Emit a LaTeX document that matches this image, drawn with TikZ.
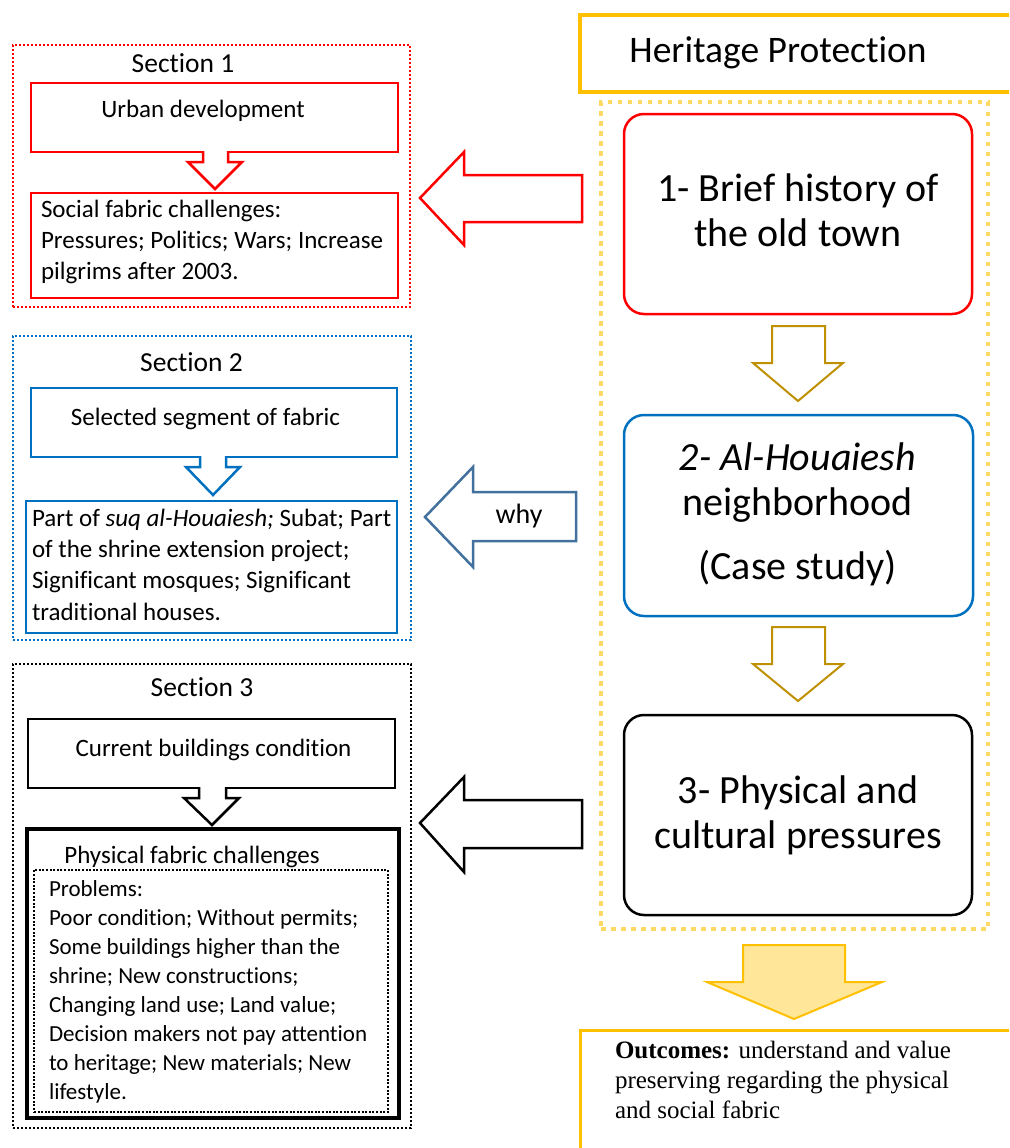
\documentclass[tikz,border=0pt]{standalone}
\usepackage{fontspec}
\setmainfont{Carlito}[Ligatures=NoCommon]
\newfontfamily\timesf{Liberation Serif}
\usetikzlibrary{fit}
\definecolor{cred}{HTML}{FF0000}
\definecolor{cblue}{HTML}{0070C0}
\definecolor{cwhy}{HTML}{41719C}
\definecolor{cgold}{HTML}{BF9000}
\definecolor{corange}{HTML}{FFC000}
\definecolor{clight}{HTML}{FFE699}
\definecolor{cdot}{HTML}{FFD966}
\begin{document}
\begin{tikzpicture}[x=1pt,y=-1pt,
  every node/.style={inner sep=0pt, outer sep=0pt},
  secdot/.style={draw, line width=2.6pt, dash pattern=on 2.4pt off 1.6pt},
  sqbox/.style={draw, line width=2.5pt, fit={#1}, inner sep=0pt},
  rbox/.style={draw, line width=2.5pt, rounded corners=20pt, fit={#1}, inner sep=0pt},
  body/.style={font=\fontsize{25}{31.3}\selectfont},
  small/.style={font=\fontsize{23}{29}\selectfont},
  sectitle/.style={font=\fontsize{27.5}{33}\selectfont, anchor=base},
  big/.style={font=\fontsize{40}{45}\selectfont, align=center, anchor=north},
]
\path[use as bounding box] (0,0) rectangle (1009,1148);
\clip (0,0) rectangle (1009,1148);
\fill[white] (0,0) rectangle (1009,1148);

% ---------- Section 1 ----------
\node[secdot, draw=cred, fit={(13,45) (410,307)}] (sec1) {};
\node[sectitle] (sec1t) at (183,73) {Section 1};
\node[sqbox={(31,83) (398,152)}, draw=cred] (urb) {};
\node[body, anchor=base] (urbt) at (203,117.3) {Urban development};
\node[sqbox={(31,193) (398,298)}, draw=cred] (soc) {};
\node[body, anchor=north west, align=left] (soct) at (41,200) {Social fabric challenges:\\Pressures; Politics; Wars; Increase\\pilgrims after 2003.};
\fill[white] (203,151) -- (203,162) -- (188,162) -- (215,189) -- (242,162) -- (228,162) -- (228,151) -- cycle;
\draw[cred, line width=2.5pt, line join=miter] (203,151) -- (203,162) -- (188,162) -- (215,189) -- (242,162) -- (228,162) -- (228,151);

% ---------- Section 2 ----------
\node[secdot, draw=cblue, fit={(13,336) (411,640)}] (sec2) {};
\node[sectitle] (sec2t) at (191.5,371.7) {Section 2};
\node[sqbox={(31,388) (397,457)}, draw=cblue] (sel) {};
\node[body, anchor=base] (selt) at (205.5,425) {Selected segment of fabric};
\node[sqbox={(26,501) (397,633)}, draw=cblue] (part) {};
\node[body, anchor=north west, align=left] (partt) at (32,509) {Part of \textit{suq al-Houaiesh;} Subat; Part\\of the shrine extension project;\\Significant mosques; Significant\\traditional houses.};
\fill[white] (200,456) -- (200,467) -- (186,467) -- (213,495) -- (240,467) -- (226,467) -- (226,456) -- cycle;
\draw[cblue, line width=2.5pt, line join=miter] (200,456) -- (200,467) -- (186,467) -- (213,495) -- (240,467) -- (226,467) -- (226,456);

% ---------- Section 3 ----------
\node[secdot, draw=black, fit={(13,664) (411,1128)}] (sec3) {};
\node[sectitle] (sec3t) at (202,696.7) {Section 3};
\node[sqbox={(28,719) (395,788)}, draw=black] (cur) {};
\node[body, anchor=base] (curt) at (213.5,756.7) {Current buildings condition};
\node[draw, line width=3.5pt, fit={(27,829) (399,1118)}, inner sep=0pt] (phys) {};
\node[body, anchor=base] (physt) at (192,863.3) {Physical fabric challenges};
\node[draw, line width=2.2pt, dash pattern=on 2pt off 1.6pt, fit={(34,870) (388,1112)}, inner sep=0pt] (prob) {};
\node[small, anchor=north west, align=left] (probt) at (49,881) {Problems:\\Poor condition; Without permits;\\Some buildings higher than the\\shrine; New constructions;\\Changing land use; Land value;\\Decision makers not pay attention\\to heritage; New materials; New\\lifestyle.};
\fill[white] (199,787) -- (199,798) -- (184,798) -- (212,825) -- (239,798) -- (226,798) -- (226,787) -- cycle;
\draw[black, line width=2.5pt, line join=miter] (199,787) -- (199,798) -- (184,798) -- (212,825) -- (239,798) -- (226,798) -- (226,787);

% ---------- left block arrows ----------
\draw[cred, line width=2.5pt, line join=miter] (420,198) -- (464,152) -- (464,175) -- (582,175) -- (582,222) -- (464,222) -- (464,245) -- cycle;
\draw[cwhy, line width=2.5pt, line join=miter] (425,517) -- (473,467) -- (473,492) -- (576,492) -- (576,541) -- (473,541) -- (473,567) -- cycle;
\node[font=\fontsize{28}{33}\selectfont, anchor=base] (why) at (519,523) {why};
\draw[black, line width=2.5pt, line join=miter] (420,823) -- (464,777) -- (464,800) -- (582,800) -- (582,848) -- (464,848) -- (464,872) -- cycle;

% ---------- right column ----------
\node[draw=corange, line width=4pt, fit={(580,15) (1030,92)}, inner sep=0pt] (her) {};
\node[font=\fontsize{37.5}{42}\selectfont, anchor=base] (hert) at (778,62.7) {Heritage Protection};
\node[draw=cdot, line width=3.5pt, dash pattern=on 4.5pt off 5.5pt, fit={(601,102) (988,929)}, inner sep=0pt] (col) {};
\node[rbox={(624,114) (972,314)}, draw=cred] (b1) {};
\node[big] (b1t) at (798,173.3) {1- Brief history of\\the old town};
\node[rbox={(624,415) (973,616)}, draw=cblue] (b2) {};
\node[big] (b2t) at (797.5,442.6) {\textit{2- Al-Houaiesh}\\neighborhood\\[19.5pt](Case study)};
\node[rbox={(624,715) (972,915)}, draw=black] (b3) {};
\node[big] (b3t) at (798,775.6) {3- Physical and\\cultural pressures};
\draw[cgold, line width=2pt, line join=miter] (772,326) -- (772,363) -- (753,363) -- (798,401) -- (843,363) -- (825,363) -- (825,326) -- cycle;
\draw[cgold, line width=2pt, line join=miter] (772,627) -- (772,664) -- (753,664) -- (798,701) -- (843,664) -- (825,664) -- (825,627) -- cycle;

% ---------- outcomes ----------
\draw[corange, fill=clight, line width=2pt, line join=miter] (743,945) -- (743,982) -- (707,982) -- (794,1019) -- (882,982) -- (845,982) -- (845,945) -- cycle;
\node[draw=corange, line width=3pt, fit={(580,1030) (1030,1170)}, inner sep=0pt] (out) {};
\node[font=\timesf\fontsize{25}{30}\selectfont, anchor=north west, align=left] (outt) at (615,1041) {\textbf{Outcomes:} understand and value\\preserving regarding the physical\\and social fabric};
\end{tikzpicture}
\end{document}
